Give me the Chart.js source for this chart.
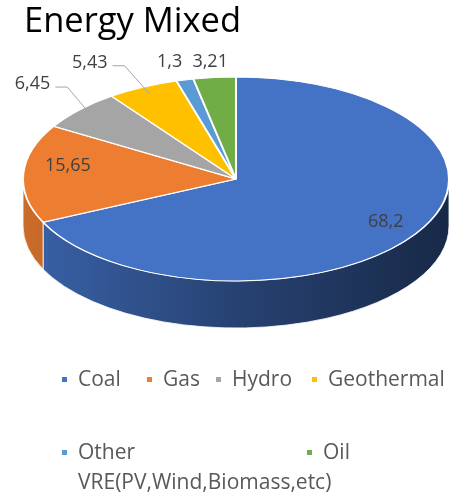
<!DOCTYPE html>
<html>
<head>
<meta charset="utf-8">
<script src="https://cdn.jsdelivr.net/npm/chart.js@4/dist/chart.umd.min.js"></script>
<style>
body { margin: 0; background: #fff; }
#wrap { width: 453px; height: 498px; }
</style>
</head>
<body>
<div id="wrap"><canvas id="myChartEnergia"></canvas></div>
<script>
const ctxe = document.getElementById('myChartEnergia');

const categorias = ['Coal', 'Gas', 'Hydro', 'Geothermal', 'Other VRE(PV,Wind,Biomass,etc)', 'Oil'];
const valores = [68.2, 15.65, 6.45, 5.43, 1.3, 3.21];
const etiquetas = ['68,2', '15,65', '6,45', '5,43', '1,3', '3,21'];
const colores = ['#4472C4', '#ED7D31', '#A5A5A5', '#FFC000', '#5B9BD5', '#70AD47'];

// forma del pastel "3d" (elipse) y capas
const elipse = { cx: 236, cy: 179, rx: 213, ry: 102, fondo: 47 };
// etiquetas: [factor de radio, dx, dy]
const posEtiqueta = [[0.8, 6, -1], [0.8, 2, -9], [1.3, 0, -5], [1.3, -25, 3], [1.3, 0, 12], [1.3, 2, 15]];
// leyenda: x del cuadrito, y de la fila
const leyendaPos = [[62, 380], [147, 380], [216, 380], [312, 380], [62, 453], [307, 453]];

function oscurecer(hex, f) {
    const n = parseInt(hex.slice(1), 16);
    const r = Math.round(((n >> 16) & 255) * f);
    const g = Math.round(((n >> 8) & 255) * f);
    const b = Math.round((n & 255) * f);
    return 'rgb(' + r + ',' + g + ',' + b + ')';
}

function puntoElipse(ang, f) {
    return [elipse.cx + elipse.rx * f * Math.cos(ang), elipse.cy + elipse.ry * f * Math.sin(ang)];
}

const pastel3d = {
    id: 'pastel3d',
    beforeDatasetsDraw(chart) {
        const ctx = chart.ctx;
        const arcos = chart.getDatasetMeta(0).data;
        const { cx, cy, rx, ry, fondo } = elipse;
        // lados del pastel
        arcos.forEach((arco, i) => {
            const a1 = Math.max(arco.startAngle, 0);
            const a2 = Math.min(arco.endAngle, Math.PI);
            if (a2 <= a1) return;
            const grad = ctx.createLinearGradient(cx - rx, 0, cx + rx, 0);
            grad.addColorStop(0, oscurecer(colores[i], 0.86));
            grad.addColorStop(0.5, oscurecer(colores[i], 0.58));
            grad.addColorStop(1, oscurecer(colores[i], 0.36));
            ctx.save();
            ctx.beginPath();
            ctx.ellipse(cx, cy, rx, ry, 0, a1, a2);
            ctx.ellipse(cx, cy + fondo, rx, ry, 0, a2, a1, true);
            ctx.closePath();
            ctx.fillStyle = grad;
            ctx.fill();
            ctx.strokeStyle = 'rgba(255,255,255,0.8)';
            ctx.lineWidth = 1;
            ctx.stroke();
            ctx.restore();
        });
        const R = arcos[0].outerRadius;
        ctx.save();
        ctx.translate(cx, cy);
        ctx.scale(rx / R, ry / R);
        ctx.translate(-arcos[0].x, -arcos[0].y);
    },
    afterDatasetsDraw(chart) {
        const ctx = chart.ctx;
        ctx.restore();
        const arcos = chart.getDatasetMeta(0).data;
        ctx.save();
        ctx.font = '18px "Open Sans"';
        ctx.textAlign = 'center';
        ctx.textBaseline = 'middle';
        arcos.forEach((arco, i) => {
            const medio = (arco.startAngle + arco.endAngle) / 2;
            const [f, dx, dy] = posEtiqueta[i];
            const p = puntoElipse(medio, f);
            const lx = p[0] + dx;
            const ly = p[1] + dy;
            if (f > 1) {
                const ancla = puntoElipse(medio, 0.93);
                const w = ctx.measureText(etiquetas[i]).width;
                if (Math.hypot(ancla[0] - lx, ancla[1] - ly) > 40) {
                    ctx.beginPath();
                    ctx.moveTo(lx + w / 2 + 5, ly + 3);
                    ctx.lineTo(lx + w / 2 + 17, ly + 3);
                    ctx.lineTo(ancla[0], ancla[1]);
                    ctx.strokeStyle = '#a6a6a6';
                    ctx.lineWidth = 1;
                    ctx.stroke();
                }
            }
            ctx.fillStyle = '#404040';
            ctx.fillText(etiquetas[i], lx, ly);
        });
        ctx.restore();
    },
    afterDraw(chart) {
        const ctx = chart.ctx;
        ctx.save();
        ctx.font = '21px "Open Sans"';
        ctx.textBaseline = 'middle';
        ctx.textAlign = 'left';
        categorias.forEach((nombre, i) => {
            const [x, y] = leyendaPos[i];
            ctx.fillStyle = colores[i];
            ctx.fillRect(x, y - 3, 5, 5);
            ctx.fillStyle = '#595959';
            let lineas = [nombre];
            if (ctx.measureText(nombre).width > 230) {
                const k = nombre.indexOf(' ');
                lineas = [nombre.slice(0, k), nombre.slice(k + 1)];
            }
            lineas.forEach((t, j) => ctx.fillText(t, x + 16, y + j * 30));
        });
        ctx.restore();
    }
};

new Chart(ctxe, {
    type: 'pie',
    data: {
        labels: categorias,
        datasets: [{
            data: valores,
            backgroundColor: colores,
            borderColor: '#ffffff',
            borderWidth: 2
        }]
    },
    options: {
        responsive: true,
        maintainAspectRatio: false,
        animation: false,
        layout: { padding: { left: 24, top: 1 } },
        plugins: {
            legend: { display: false },
            tooltip: { enabled: false },
            title: {
                display: true,
                text: 'Energy Mixed',
                align: 'start',
                color: '#000000',
                font: { family: 'Open Sans', size: 34.5, weight: 'normal' },
                padding: { top: 0, bottom: 10 }
            }
        }
    },
    plugins: [pastel3d]
});
</script>
</body>
</html>
